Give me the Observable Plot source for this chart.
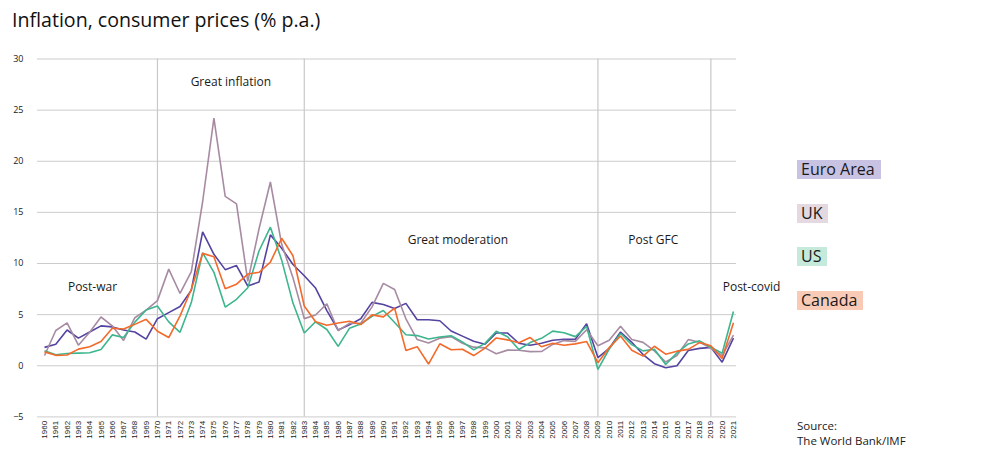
<!DOCTYPE html>
<html>
<head>
<meta charset="utf-8">
<script src="https://cdn.jsdelivr.net/npm/d3@7"></script>
<script src="https://cdn.jsdelivr.net/npm/@observablehq/plot@0.6"></script>
<style>
  body { margin: 0; background: #fff; }
  #wrap { position: relative; width: 987px; height: 466px; font-family: "Open Sans", sans-serif; color: #1a1a1a; }
  #title { position: absolute; left: 12px; top: 6px; font-size: 19.6px; white-space: nowrap; color: #111; }
  #chart { position: absolute; left: 0; top: 0; }
  .leg { position: absolute; left: 797px; font-size: 16px; line-height: 19px; padding: 0 6px 0 4px; white-space: nowrap; }
  #source { position: absolute; left: 797px; top: 418px; font-size: 11.5px; line-height: 15px; }
</style>
</head>
<body>
<div id="wrap">
  <div id="title">Inflation, consumer prices (% p.a.)</div>
  <div id="chart"></div>
  <div id="source">Source:<br>The World Bank/IMF</div>
</div>
<script>
const years = d3.range(1960, 2022);

const seriesNames = ["Euro Area", "UK", "US", "Canada"];
const lineColors = ["#5443a0", "#a78ba2", "#3db58e", "#f36a2a"];
const legendColors = ["#c9c3e3", "#e4d9e0", "#c5eadb", "#f9cbb6"];

const euroArea = [1.8, 2.1, 3.5, 2.7, 3.3, 3.9, 3.8, 3.5, 3.3, 2.6,
  4.6, 5.2, 5.8, 7.4, 13.1, 10.9, 9.4, 9.8, 7.8, 8.2,
  12.8, 11.5, 9.9, 8.8, 7.6, 5.4, 3.5, 4.0, 4.6, 6.2,
  6.0, 5.6, 6.1, 4.5, 4.5, 4.4, 3.4, 2.9, 2.4, 2.1,
  3.2, 3.2, 2.2, 2.0, 2.2, 2.5, 2.6, 2.6, 4.1, 0.8,
  1.7, 3.3, 2.3, 1.1, 0.2, -0.2, 0.0, 1.5, 1.7, 1.8,
  0.35, 2.7];

const uk = [1.00, 3.45, 4.20, 2.01, 3.28, 4.77, 3.91, 2.48, 4.70, 5.44,
  6.37, 9.45, 7.07, 9.20, 16.04, 24.21, 16.56, 15.84, 8.26, 13.42,
  17.97, 11.88, 8.60, 4.61, 4.96, 6.07, 3.43, 4.15, 4.16, 5.76,
  8.06, 7.46, 4.59, 2.56, 2.22, 2.70, 2.85, 2.20, 1.82, 1.75,
  1.18, 1.53, 1.52, 1.38, 1.39, 2.09, 2.46, 2.39, 3.52, 1.96,
  2.49, 3.86, 2.57, 2.29, 1.45, 0.37, 1.01, 2.56, 2.29, 1.74,
  0.99, 3.0];

const us = [1.46, 1.07, 1.20, 1.24, 1.28, 1.59, 3.02, 2.77, 4.27, 5.46,
  5.84, 4.29, 3.27, 6.18, 11.05, 9.14, 5.74, 6.50, 7.63, 11.25,
  13.55, 10.33, 6.13, 3.21, 4.30, 3.55, 1.90, 3.66, 4.08, 4.83,
  5.40, 4.23, 3.03, 2.95, 2.61, 2.81, 2.93, 2.34, 1.55, 2.19,
  3.38, 2.83, 1.59, 2.27, 2.68, 3.39, 3.23, 2.85, 3.84, -0.36,
  1.64, 3.16, 2.07, 1.46, 1.62, 0.12, 1.26, 2.13, 2.44, 1.81,
  1.23, 5.3];

const canada = [1.36, 1.02, 1.06, 1.63, 1.86, 2.37, 3.67, 3.60, 4.05, 4.54,
  3.37, 2.76, 4.88, 7.48, 10.99, 10.67, 7.54, 7.98, 8.97, 9.14,
  10.13, 12.47, 10.76, 5.85, 4.30, 3.96, 4.18, 4.36, 4.03, 4.98,
  4.78, 5.63, 1.49, 1.87, 0.17, 2.15, 1.57, 1.62, 1.00, 1.73,
  2.72, 2.53, 2.26, 2.76, 1.86, 2.21, 2.00, 2.14, 2.37, 0.30,
  1.78, 2.91, 1.52, 0.94, 1.91, 1.13, 1.43, 1.60, 2.27, 1.95,
  0.72, 4.2];

const yTicks = [-5, 0, 5, 10, 15, 20, 25, 30];
const eraBounds = [1970, 1983, 2009, 2019];
const eraNames = ["Post-war", "Great inflation", "Great moderation", "Post GFC", "Post-covid"];
const eraLabelYear = [1964.25, 1976.5, 1996.6, 2013.9, 2022.6];
const eraLabelLevel = [7.65, 27.7, 12.3, 12.3, 7.65];

const seriesValues = [euroArea, uk, us, canada];
const data = seriesNames.flatMap((name, s) =>
  seriesValues[s].map((v, i) => ({year: years[i], value: v, series: name})));
const eraLabels = eraNames.map((t, i) => ({text: t, x: eraLabelYear[i], y: eraLabelLevel[i]}));

const chart = Plot.plot({
  width: 987,
  height: 466,
  marginLeft: 37,
  marginRight: 251,
  marginTop: 58.5,
  marginBottom: 49.6,
  style: {fontFamily: "Open Sans", color: "#1a1a1a", background: "transparent"},
  x: {domain: [1959.38, 2021.27]},
  y: {domain: [-5, 30]},
  color: {domain: seriesNames, range: lineColors},
  marks: [
    Plot.ruleY(yTicks, {stroke: "#cccccc", strokeWidth: 1}),
    Plot.ruleX(eraBounds, {y1: -5, y2: 30, stroke: "#c8c8c8", strokeWidth: 1.2}),
    Plot.axisY(yTicks, {tickSize: 0, tickPadding: 14, fontSize: 9, label: null, fill: "#1a1a1a"}),
    Plot.axisX(years, {tickSize: 0, tickPadding: 4, tickRotate: -90, fontSize: 8,
      tickFormat: d => String(d), label: null, fontFamily: "Liberation Sans", fill: "#1a1a1a"}),
    Plot.line(data, {x: "year", y: "value", z: "series", stroke: "series", strokeWidth: 1.6,
      strokeLinejoin: "miter", strokeLinecap: "butt"}),
    Plot.text(eraLabels, {x: "x", y: "y", text: "text", fontSize: 12, fill: "#1a1a1a"})
  ]
});
document.getElementById("chart").appendChild(chart);

const wrap = document.getElementById("wrap");
seriesNames.forEach((name, i) => {
  const el = document.createElement("div");
  el.className = "leg";
  el.textContent = name;
  el.style.top = (160 + i * 43.5) + "px";
  el.style.background = legendColors[i];
  wrap.appendChild(el);
});
</script>
</body>
</html>
